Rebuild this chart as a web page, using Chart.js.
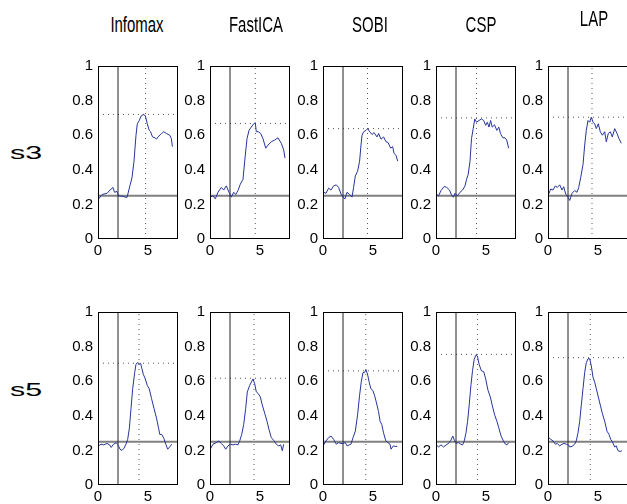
<!DOCTYPE html>
<html><head><meta charset="utf-8">
<script src="https://cdn.jsdelivr.net/npm/chart.js@4.4.0/dist/chart.umd.min.js"></script>
<style>
html,body{margin:0;padding:0;background:#fff;width:627px;height:504px;overflow:hidden;position:relative;font-family:"Liberation Sans",Arial,sans-serif;}
canvas{position:absolute;}
.title{position:absolute;font-size:22px;color:#000;white-space:nowrap;transform:translate(-50%,-50%) scaleX(0.68);}
.row{position:absolute;font-size:19px;color:#000;white-space:nowrap;transform:translate(-50%,-50%) scaleX(1.6);}
</style></head>
<body>
<script>
// ---- data ----
const methods = ["Infomax", "FastICA", "SOBI", "CSP", "LAP"];
const subjects = ["s3", "s5"];
const xTicks = [0, 5];
const yTicks = [0, 0.2, 0.4, 0.6, 0.8, 1];
const onsetTime = 2;
const chanceLevel = 0.25;

const infomaxS3 = [[0.07,0.232],[0.4,0.257],[0.9,0.264],[1.2,0.283],[1.5,0.298],[1.65,0.27],[1.9,0.275],[2.05,0.25],[2.4,0.247],[2.9,0.24],[3.2,0.31],[3.4,0.355],[3.6,0.45],[3.8,0.6],[3.93,0.666],[4.13,0.685],[4.3,0.71],[4.53,0.719],[4.73,0.713],[4.93,0.666],[5.12,0.628],[5.26,0.62],[5.45,0.59],[5.7,0.585],[5.85,0.577],[6.0,0.59],[6.35,0.61],[6.58,0.62],[6.84,0.61],[7.17,0.6],[7.34,0.58],[7.44,0.534]];
const fasticaS3 = [[0.03,0.242],[0.3,0.25],[0.53,0.232],[0.8,0.27],[1.13,0.298],[1.37,0.283],[1.63,0.307],[1.9,0.27],[2.13,0.242],[2.37,0.27],[2.57,0.257],[2.8,0.28],[3.03,0.317],[3.3,0.345],[3.47,0.45],[3.7,0.58],[3.9,0.628],[4.13,0.647],[4.37,0.666],[4.53,0.672],[4.63,0.62],[4.83,0.62],[5.07,0.61],[5.3,0.58],[5.57,0.525],[5.8,0.543],[6.13,0.562],[6.47,0.572],[6.8,0.585],[7.13,0.553],[7.37,0.515],[7.5,0.468]];
const sobiS3 = [[0.07,0.27],[0.3,0.264],[0.56,0.294],[0.8,0.283],[1.06,0.307],[1.33,0.313],[1.56,0.298],[1.8,0.26],[2.0,0.242],[2.2,0.232],[2.4,0.27],[2.66,0.257],[2.9,0.242],[3.06,0.298],[3.23,0.364],[3.46,0.392],[3.66,0.45],[3.8,0.543],[3.9,0.6],[4.07,0.62],[4.3,0.628],[4.47,0.638],[4.67,0.62],[4.9,0.604],[5.1,0.615],[5.4,0.59],[5.56,0.61],[5.8,0.577],[6.06,0.59],[6.3,0.562],[6.5,0.558],[6.77,0.525],[6.97,0.534],[7.1,0.496],[7.3,0.483],[7.47,0.45]];
const cspS3 = [[0.03,0.26],[0.26,0.25],[0.5,0.28],[0.82,0.304],[1.08,0.298],[1.35,0.283],[1.58,0.25],[1.74,0.242],[1.9,0.264],[2.14,0.25],[2.4,0.27],[2.66,0.283],[2.9,0.307],[3.06,0.345],[3.22,0.374],[3.4,0.45],[3.55,0.58],[3.72,0.638],[3.88,0.694],[4.05,0.675],[4.3,0.685],[4.54,0.694],[4.77,0.685],[4.97,0.657],[5.13,0.675],[5.3,0.647],[5.46,0.685],[5.62,0.647],[5.85,0.66],[6.08,0.628],[6.28,0.647],[6.45,0.61],[6.68,0.585],[6.9,0.585],[7.07,0.572],[7.27,0.525]];
const lapS3 = [[0.07,0.26],[0.27,0.289],[0.5,0.283],[0.73,0.307],[0.93,0.298],[1.17,0.313],[1.4,0.283],[1.57,0.302],[1.77,0.26],[2.0,0.242],[2.17,0.223],[2.4,0.264],[2.67,0.28],[2.9,0.27],[3.07,0.298],[3.27,0.355],[3.5,0.43],[3.67,0.543],[3.83,0.628],[4.0,0.685],[4.17,0.675],[4.33,0.704],[4.5,0.675],[4.67,0.666],[4.83,0.638],[5.03,0.666],[5.23,0.62],[5.43,0.6],[5.67,0.62],[5.83,0.562],[6.03,0.61],[6.23,0.62],[6.43,0.59],[6.67,0.638],[6.9,0.61],[7.1,0.58],[7.33,0.553]];

const infomaxS5 = [[0.07,0.226],[0.3,0.236],[0.56,0.232],[0.9,0.24],[1.16,0.232],[1.32,0.217],[1.55,0.236],[1.82,0.245],[2.02,0.23],[2.2,0.207],[2.4,0.2],[2.6,0.213],[2.8,0.236],[2.97,0.264],[3.14,0.33],[3.3,0.443],[3.47,0.557],[3.67,0.65],[3.8,0.698],[3.93,0.707],[4.1,0.698],[4.26,0.704],[4.4,0.67],[4.53,0.64],[4.73,0.613],[4.93,0.575],[5.12,0.557],[5.35,0.5],[5.6,0.443],[5.85,0.387],[6.05,0.33],[6.18,0.292],[6.38,0.292],[6.58,0.27],[6.78,0.236],[6.97,0.207],[7.17,0.22],[7.37,0.236]];
const fasticaS5 = [[0.03,0.207],[0.3,0.236],[0.63,0.245],[0.9,0.255],[1.13,0.24],[1.37,0.226],[1.57,0.207],[1.8,0.226],[2.03,0.236],[2.3,0.232],[2.53,0.236],[2.8,0.232],[2.97,0.255],[3.17,0.292],[3.37,0.349],[3.57,0.443],[3.73,0.538],[3.97,0.575],[4.13,0.594],[4.3,0.613],[4.47,0.585],[4.63,0.538],[4.83,0.528],[5.03,0.509],[5.23,0.462],[5.47,0.415],[5.7,0.368],[5.9,0.32],[6.13,0.274],[6.37,0.258],[6.63,0.236],[6.87,0.226],[7.07,0.232],[7.23,0.198],[7.37,0.236]];
const sobiS5 = [[0.07,0.232],[0.3,0.255],[0.56,0.274],[0.8,0.283],[1.06,0.264],[1.33,0.236],[1.56,0.245],[1.8,0.24],[2.0,0.24],[2.23,0.245],[2.4,0.226],[2.63,0.232],[2.8,0.236],[3.0,0.274],[3.23,0.311],[3.46,0.406],[3.66,0.519],[3.82,0.594],[4.0,0.65],[4.15,0.65],[4.3,0.666],[4.45,0.641],[4.62,0.594],[4.78,0.557],[4.98,0.547],[5.15,0.519],[5.32,0.481],[5.55,0.425],[5.71,0.368],[5.88,0.349],[6.05,0.302],[6.28,0.255],[6.48,0.245],[6.7,0.236],[6.8,0.207],[7.03,0.226],[7.23,0.223],[7.43,0.223]];
const cspS5 = [[0.03,0.232],[0.26,0.22],[0.5,0.232],[0.76,0.22],[1.02,0.232],[1.25,0.24],[1.48,0.258],[1.68,0.283],[1.84,0.258],[2.0,0.24],[2.24,0.245],[2.47,0.236],[2.66,0.232],[2.83,0.255],[3.0,0.302],[3.16,0.368],[3.32,0.462],[3.49,0.575],[3.65,0.66],[3.82,0.726],[3.98,0.75],[4.14,0.745],[4.31,0.698],[4.54,0.66],[4.77,0.655],[4.97,0.613],[5.2,0.547],[5.43,0.509],[5.62,0.462],[5.86,0.406],[6.09,0.368],[6.28,0.33],[6.51,0.283],[6.74,0.255],[6.94,0.236],[7.1,0.232],[7.27,0.245]];
const lapS5 = [[0.07,0.274],[0.27,0.264],[0.5,0.255],[0.73,0.236],[0.93,0.24],[1.17,0.226],[1.4,0.236],[1.6,0.24],[1.83,0.236],[2.03,0.232],[2.17,0.22],[2.4,0.223],[2.67,0.236],[2.83,0.255],[3.0,0.302],[3.17,0.368],[3.33,0.462],[3.5,0.557],[3.67,0.651],[3.83,0.707],[4.0,0.73],[4.17,0.73],[4.33,0.689],[4.5,0.623],[4.67,0.594],[4.83,0.557],[5.03,0.509],[5.23,0.462],[5.43,0.415],[5.67,0.368],[5.9,0.311],[6.1,0.292],[6.27,0.264],[6.43,0.25],[6.67,0.22],[6.83,0.226],[7.0,0.198],[7.23,0.194],[7.4,0.198]];

const peakXS3 = [4.76, 4.53, 4.45, 4.05, 4.4];
const peakYS3 = [0.72, 0.668, 0.638, 0.70, 0.704];
const peakXS5 = [4.1, 4.4, 4.28, 4.14, 4.23];
const peakYS5 = [0.704, 0.617, 0.66, 0.755, 0.736];

const curves = [[infomaxS3, fasticaS3, sobiS3, cspS3, lapS3],[infomaxS5, fasticaS5, sobiS5, cspS5, lapS5]];
const peaksX = [peakXS3, peakXS5];
const peaksY = [peakYS3, peakYS5];

// ---- layout ----
const frameLefts = [98, 210, 323, 436, 548];
const frameTops = [62, 308];
const frameW = 80, frameH = 177;
const padL = 45, padT = 10, padR = 8, padB = 25;
const XMIN = 0, XMAX = 8, YMIN = 0, YMAX = 1;
const FONT = {family: '"Liberation Sans", Arial, sans-serif', size: 15};

const framePlugin = {
  id: 'frame',
  afterDraw(chart) {
    const {ctx, chartArea: a} = chart;
    ctx.save();
    ctx.strokeStyle = '#000';
    ctx.lineWidth = 1;
    ctx.strokeRect(a.left + 0.5, a.top + 0.5, a.right - a.left - 1, a.bottom - a.top - 1);
    ctx.restore();
  }
};

function fmt(v) { return String(+(+v).toFixed(1)); }

subjects.forEach((subj, r) => {
  methods.forEach((m, c) => {
    const cv = document.createElement('canvas');
    const W = padL + frameW + padR, H = padT + frameH + padB;
    cv.width = W; cv.height = H;
    cv.style.width = W + 'px'; cv.style.height = H + 'px';
    cv.style.left = (frameLefts[c] - padL) + 'px';
    cv.style.top = (frameTops[r] - padT) + 'px';
    document.body.appendChild(cv);
    const px = peaksX[r][c], py = peaksY[r][c];
    new Chart(cv, {
      type: 'line',
      data: {
        datasets: [
          {data: curves[r][c].map(p => ({x: p[0], y: p[1]})), borderColor: '#27349a', borderWidth: 1, pointRadius: 0, tension: 0},
          {data: [{x: onsetTime, y: YMIN}, {x: onsetTime, y: YMAX}], borderColor: '#222', borderWidth: 1, pointRadius: 0},
          {data: [{x: XMIN, y: chanceLevel}, {x: XMAX, y: chanceLevel}], borderColor: '#808080', borderWidth: 2, pointRadius: 0},
          {data: [{x: XMIN, y: py}, {x: XMAX, y: py}], borderColor: '#555', borderWidth: 1, borderDash: [1, 4], pointRadius: 0},
          {data: [{x: px, y: YMIN}, {x: px, y: YMAX}], borderColor: '#555', borderWidth: 1, borderDash: [1, 4], pointRadius: 0}
        ]
      },
      options: {
        responsive: false, animation: false, devicePixelRatio: 1,
        layout: {padding: {top: padT, right: padR, left: 0, bottom: 0}},
        plugins: {legend: {display: false}, tooltip: {enabled: false}},
        scales: {
          x: {type: 'linear', min: XMIN, max: XMAX,
            grid: {display: false, drawTicks: false}, border: {display: false},
            ticks: {font: FONT, color: '#000', padding: 3, maxRotation: 0, autoSkip: false, callback: fmt},
            afterBuildTicks: s => { s.ticks = xTicks.map(v => ({value: v})); },
            afterFit: s => { s.height = padB; }},
          y: {type: 'linear', min: YMIN, max: YMAX,
            grid: {display: false, drawTicks: false}, border: {display: false},
            ticks: {font: FONT, color: '#000', padding: 5, autoSkip: false, callback: fmt},
            afterBuildTicks: s => { s.ticks = yTicks.map(v => ({value: v})); },
            afterFit: s => { s.width = padL; }}
        }
      },
      plugins: [framePlugin]
    });
  });
});

// titles
const titleX = [137, 256, 370, 481, 594];
const titleY = [25, 25, 25, 25, 19];
methods.forEach((m, i) => {
  const d = document.createElement('div');
  d.className = 'title'; d.textContent = m;
  d.style.left = titleX[i] + 'px'; d.style.top = titleY[i] + 'px';
  document.body.appendChild(d);
});
const rowY = [153, 390];
subjects.forEach((s, i) => {
  const d = document.createElement('div');
  d.className = 'row'; d.textContent = s;
  d.style.left = '26px'; d.style.top = rowY[i] + 'px';
  document.body.appendChild(d);
});
</script>
</body></html>
